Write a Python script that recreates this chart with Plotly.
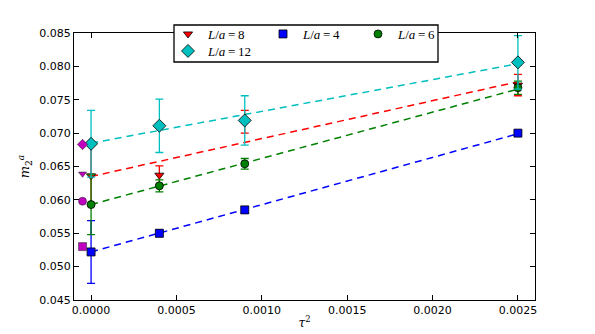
import plotly.graph_objects as go

# ---- data ----
tau2 = [0.0, 0.0004, 0.0009, 0.0025]

L8_vals = [0.0636, 0.0637, 0.0717, 0.0772]
L8_errs = [0.0045, 0.0014, 0.0017, 0.0016]

L4_vals = [0.0522, 0.0550, 0.0585, 0.0700]
L4_errs = [0.0047, 0.0005, 0.0005, 0.0003]

L6_vals = [0.0593, 0.0621, 0.0654, 0.0768]
L6_errs = [0.0045, 0.0009, 0.0008, 0.0010]

L12_vals = [0.0684, 0.0711, 0.0719, 0.0806]
L12_errs = [0.0050, 0.0040, 0.0037, 0.0040]

# linear fits (value at tau^2 = 0 and at tau^2 = 0.0025)
fit_x = [0.0, 0.0025]
fit_L8 = [0.0635, 0.0777]
fit_L4 = [0.0522, 0.0699]
fit_L6 = [0.0593, 0.0766]
fit_L12 = [0.0685, 0.0804]

# comparison points (magenta), slightly left of tau^2 = 0
cmp_x = [-0.00005, -0.00005, -0.00005, -0.00005]
cmp_vals = [0.0683, 0.0639, 0.0598, 0.0530]
cmp_symbols = ["diamond", "triangle-down", "circle", "square"]

series = [
    ("L/a=8", "8", L8_vals, L8_errs, fit_L8, "#ff0000", "triangle-down", 8),
    ("L/a=4", "4", L4_vals, L4_errs, fit_L4, "#0000ff", "square", 8),
    ("L/a=6", "6", L6_vals, L6_errs, fit_L6, "#008000", "circle", 8),
    ("L/a=12", "12", L12_vals, L12_errs, fit_L12, "#00bfbf", "diamond", 10),
]

fig = go.Figure()

# fit lines
for name, lab, vals, errs, fit, col, sym, sz in series:
    fig.add_trace(go.Scatter(
        x=fit_x, y=fit, mode="lines",
        line=dict(color=col, width=1.5, dash="7px,5px"),
        showlegend=False, hoverinfo="skip"))

# data with error bars
for i, (name, lab, vals, errs, fit, col, sym, sz) in enumerate(series):
    fig.add_trace(go.Scatter(
        x=tau2, y=vals, mode="markers",
        name="<i>L</i>/<i>a</i>\u2009=\u2009" + lab,
        legend="legend2" if lab == "12" else "legend",
        marker=dict(symbol=sym, size=sz, color=col,
                    line=dict(color="black", width=0.8)),
        error_y=dict(type="data", array=errs, visible=True,
                     color=col, thickness=1.3, width=4)))

# magenta comparison points
for xv, yv, sym in zip(cmp_x, cmp_vals, cmp_symbols):
    fig.add_trace(go.Scatter(
        x=[xv], y=[yv], mode="markers", showlegend=False,
        marker=dict(symbol=sym, size=7 if sym == "triangle-down" else 8,
                    color="#bf00bf", line=dict(color="#333333", width=0.6))))

axis_common = dict(
    showline=True, linecolor="black", linewidth=1.3, mirror="ticks",
    ticks="inside", ticklen=5, tickwidth=1, tickcolor="black",
    showgrid=False, zeroline=False,
    tickfont=dict(family="DejaVu Sans", size=11, color="black"),
)

fig.update_layout(
    width=595, height=334,
    margin=dict(l=74, r=60, t=33, b=34, autoexpand=False),
    paper_bgcolor="white", plot_bgcolor="white",
    xaxis=dict(range=[-0.0001, 0.0026], dtick=0.0005, tick0=0,
               tickformat=".4f",
               title=dict(text="<i>τ</i><sup>2</sup>", standoff=2,
                          font=dict(family="DejaVu Serif", size=12, color="black")),
               **axis_common),
    yaxis=dict(range=[0.045, 0.085], dtick=0.005, tick0=0.045,
               tickformat=".3f",
               title=dict(text="<i>m</i><sub>2</sub><sup><i>a</i></sup>", standoff=6,
                          font=dict(family="DejaVu Serif", size=13, color="black")),
               **axis_common),
    legend=dict(orientation="h", x=(168 - 74) / 461, xanchor="left",
                y=(300 - 19) / 267, yanchor="top",
                bgcolor="rgba(0,0,0,0)", borderwidth=0,
                entrywidth=50, entrywidthmode="pixels", itemwidth=30,
                font=dict(family="Liberation Serif", size=13, color="black")),
    legend2=dict(orientation="h", x=(168 - 74) / 461, xanchor="left",
                 y=(300 - 36) / 267, yanchor="top",
                 bgcolor="rgba(0,0,0,0)", borderwidth=0,
                 entrywidth=50, entrywidthmode="pixels", itemwidth=30,
                 font=dict(family="Liberation Serif", size=13, color="black")),
    shapes=[dict(type="rect", xref="paper", yref="paper",
                 x0=(174 - 74) / 461, x1=(438 - 74) / 461,
                 y0=(300 - 62) / 267, y1=(300 - 25) / 267,
                 fillcolor="white", line=dict(color="black", width=1.3),
                 layer="above")],
)

fig.write_html("out.html", config={"displayModeBar": False},
               post_script="document.body.style.margin='0';")
